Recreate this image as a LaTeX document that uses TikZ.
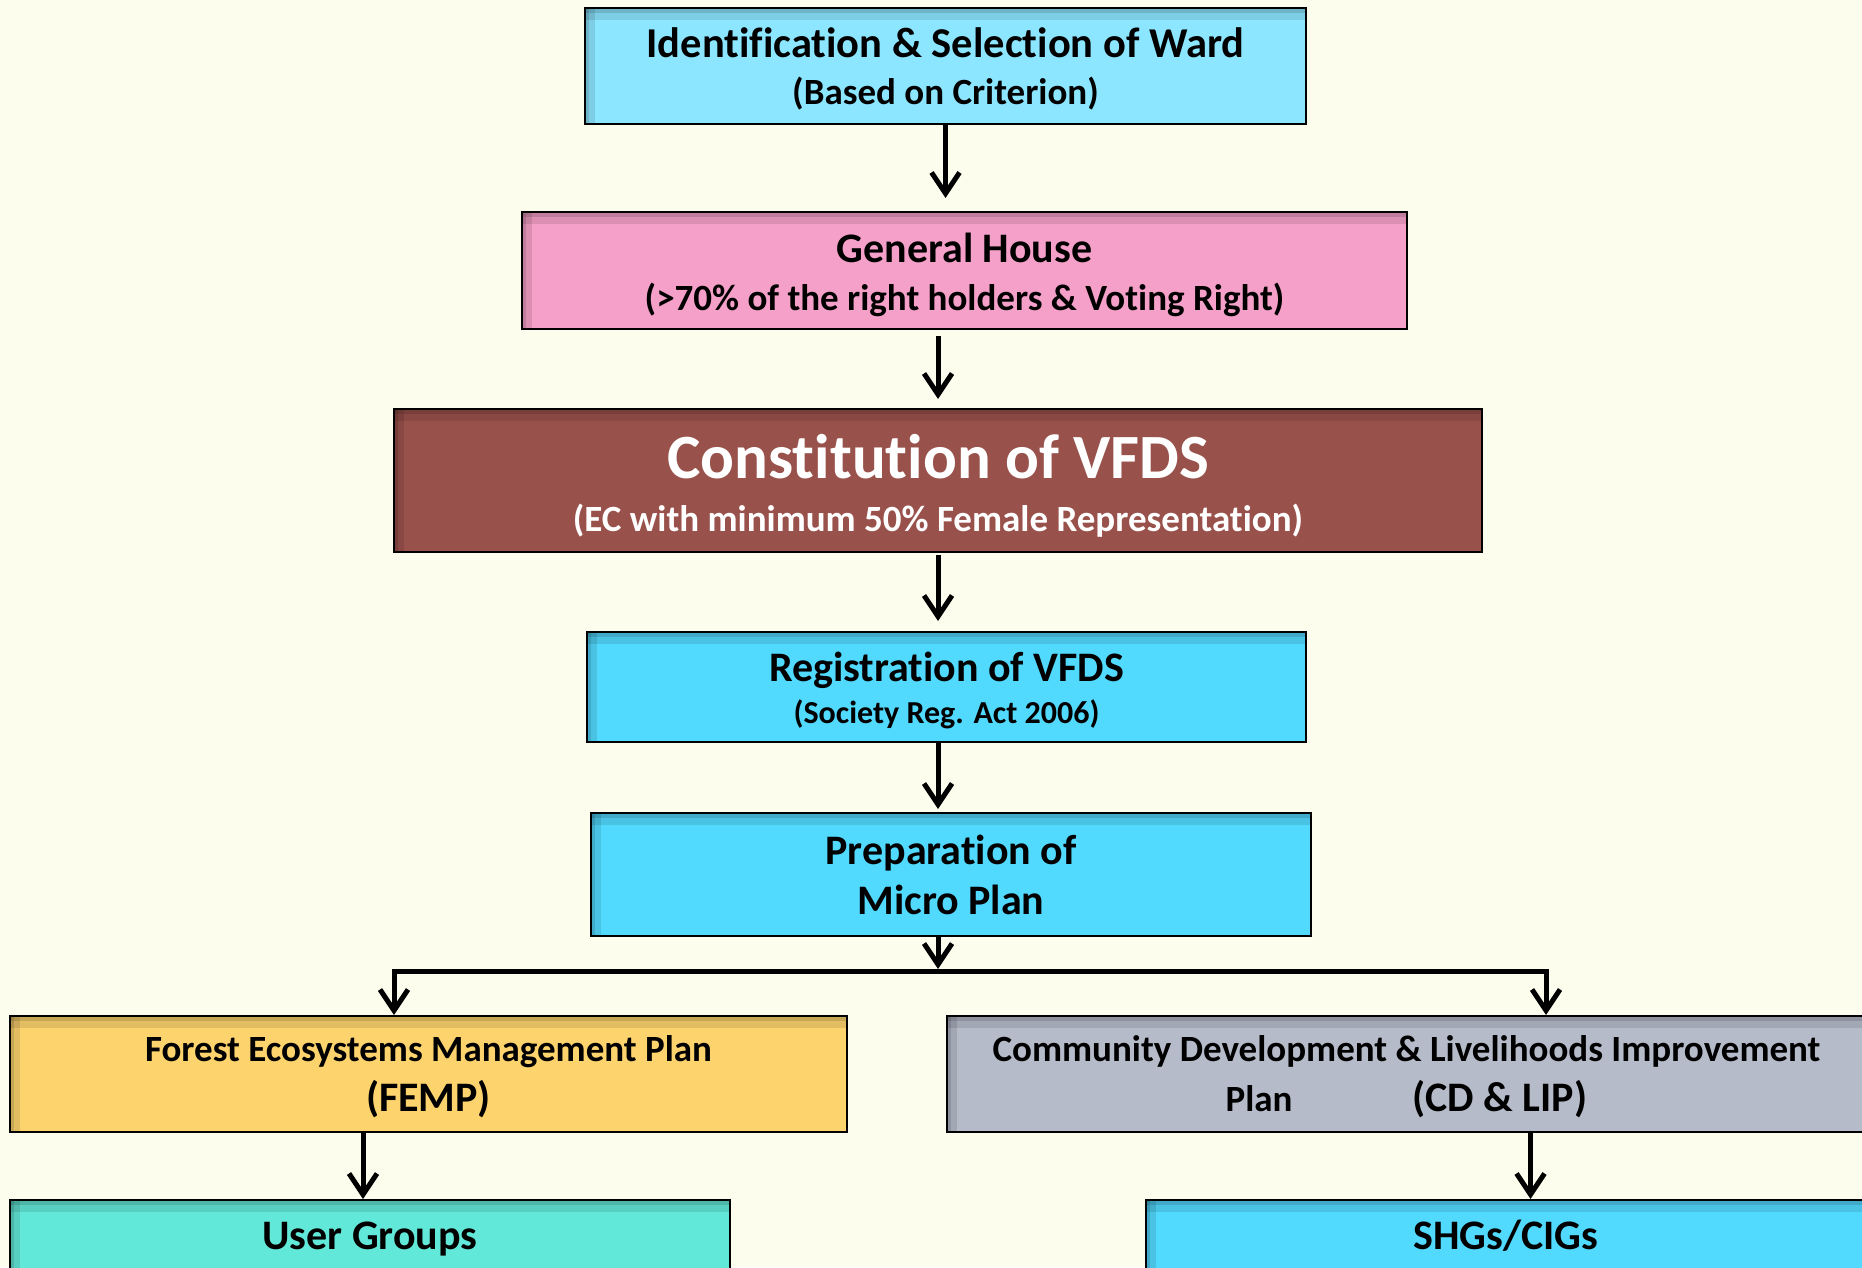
\documentclass[tikz,border=0pt]{standalone}
\usepackage{fontspec}
\setmainfont{Carlito}[Ligatures=CommonOff]
\usetikzlibrary{arrows.meta}
\definecolor{bgcream}{HTML}{FDFDEE}
\definecolor{wardblue}{HTML}{8CE6FF}
\definecolor{housepink}{HTML}{F5A0C8}
\definecolor{vfdsbrown}{HTML}{99514B}
\definecolor{stepblue}{HTML}{52D9FE}
\definecolor{fempgold}{HTML}{FDD36E}
\definecolor{cdgrey}{HTML}{B5BBC9}
\definecolor{ugteal}{HTML}{62E8D8}
\newcommand{\fs}[2]{\fontsize{#1}{#2}\selectfont}
% push a first line down without changing the box centering
\newcommand{\dropline}[2]{\raisebox{0pt}[\dimexpr\height+#1\relax]{#2}}
\tikzset{
  inshade/.style={path picture={
    \fill[black, opacity=.10] (path picture bounding box.north west) rectangle ([yshift=-12pt]path picture bounding box.north east);
    \fill[black, opacity=.12] (path picture bounding box.north west) rectangle ([yshift=-5pt]path picture bounding box.north east);
    \fill[black, opacity=.10] (path picture bounding box.north west) rectangle ([xshift=10pt]path picture bounding box.south west);
    \fill[black, opacity=.12] (path picture bounding box.north west) rectangle ([xshift=4pt]path picture bounding box.south west);
  }},
  box/.style={draw, line width=2pt, rectangle, align=center, inner sep=0pt, inshade},
  arr/.style={line width=5pt, -{Straight Barb[length=21pt, width=28pt]}}
}
\begin{document}
\begin{tikzpicture}[x=1pt, y=-1pt]
\useasboundingbox (0,0) rectangle (1862,1267);
\clip (0,0) rectangle (1862,1267);
\fill[bgcream] (0,0) rectangle (1862,1267);
\node (ward) [box, fill=wardblue, minimum width=721pt, minimum height=116pt, font=\bfseries\fs{42.5}{47}] at (945.5,66) {\dropline{6pt}{Identification \& Selection of Ward}\\{\fs{37}{47}(Based on Criterion)}};
\node (house) [box, fill=housepink, minimum width=885pt, minimum height=117pt, font=\bfseries\fs{42}{48}] at (964.5,270.5) {\dropline{9pt}{General House}\\{\fs{37}{48}(>70\% of the right holders \& Voting Right)}};
\node (vfds) [box, fill=vfdsbrown, text=white, minimum width=1088pt, minimum height=143pt, font=\bfseries\fs{63}{53}] at (938,480.5) {\dropline{10pt}{Constitution of VFDS}\\{\fs{37}{53}(EC with minimum 50\% Female Representation)}};
\node (reg) [box, fill=stepblue, minimum width=719pt, minimum height=110pt, font=\bfseries\fs{42}{42}] at (946.5,687) {\dropline{7pt}{Registration of VFDS}\\{\fs{32}{42}(Society Reg. Act 2006)}};
\node (micro) [box, fill=stepblue, minimum width=720pt, minimum height=123pt, font=\bfseries\fs{42}{50}] at (951,874.5) {Preparation of\\Micro Plan};
\node (femp) [box, fill=fempgold, minimum width=837pt, minimum height=116pt, font=\bfseries\fs{37}{50}] at (428.5,1074) {\dropline{6pt}{Forest Ecosystems Management Plan}\\{\fs{42}{50}(FEMP)}};
\node (cd) [box, fill=cdgrey, minimum width=919pt, minimum height=116pt, font=\bfseries\fs{37}{50}] at (1406.5,1074) {\dropline{6pt}{Community Development \& Livelihoods Improvement}\\Plan\hspace{120pt}{\fs{42}{50}(CD \& LIP)}};
\node (ug) [box, fill=ugteal, minimum width=720pt, inner ysep=20pt, text height=29pt, text depth=60pt, anchor=north, font=\bfseries\fs{42}{48}] at (370,1199) {User Groups};
\node (shg) [box, fill=stepblue, minimum width=720pt, inner ysep=20pt, text height=29pt, text depth=60pt, anchor=north, font=\bfseries\fs{42}{48}] at (1506,1199) {SHGs/CIGs};
% spine of the flow and the split
\coordinate (spine) at (938,0);
\coordinate (split) at (938,971);
\coordinate (lbranch) at (394,971);
\coordinate (rbranch) at (1546,971);
\draw[arr, shorten >=13pt] (ward.south) -- (ward.south |- house.north);
\draw[arr, shorten <=6pt, shorten >=9pt] (house.south -| spine) -- (vfds.north -| spine);
\draw[arr, shorten <=2pt, shorten >=10pt] (vfds.south -| spine) -- (reg.north -| spine);
\draw[arr, shorten >=3pt] (reg.south -| spine) -- (micro.north -| spine);
\draw[arr, shorten >=2pt] (micro.south -| spine) -- (split);
\draw[arr] (split) -| (lbranch |- femp.north);
\draw[arr] (split) -| (rbranch |- cd.north);
\draw[arr] ([xshift=-65.5pt]femp.south) -- ([xshift=-65.5pt]femp.south |- ug.north);
\draw[arr] ([xshift=124pt]cd.south) -- ([xshift=124pt]cd.south |- shg.north);
\end{tikzpicture}
\end{document}
